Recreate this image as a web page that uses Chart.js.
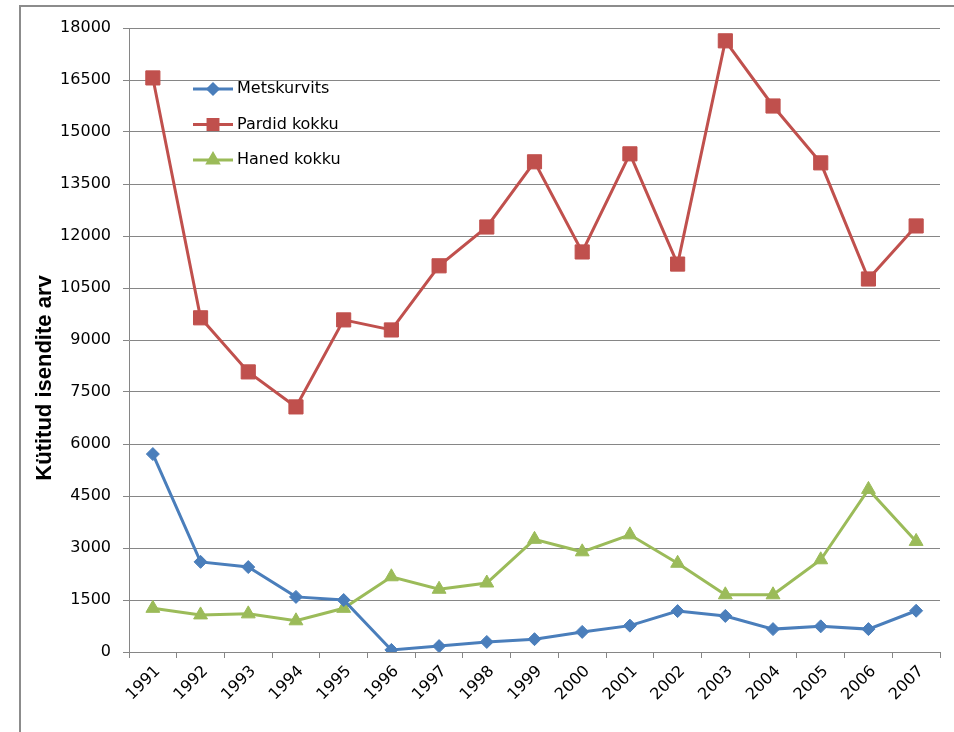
<!DOCTYPE html>
<html>
<head>
<meta charset="utf-8">
<script src="https://cdn.jsdelivr.net/npm/chart.js@4/dist/chart.umd.min.js"></script>
<style>
  html, body { margin: 0; padding: 0; background: #fff; overflow: hidden; }
  #frame { position: absolute; left: 19px; top: 5px; width: 1000px; height: 800px; border: 2px solid #8c8c8c; }
  #chart { position: absolute; left: 0; top: 0; }
</style>
</head>
<body>
<div id="frame"></div>
<canvas id="chart" width="954" height="732"></canvas>
<script>
// aastad ja kütitud isendite arv
var aastad = ["1991", "1992", "1993", "1994", "1995", "1996", "1997", "1998", "1999",
  "2000", "2001", "2002", "2003", "2004", "2005", "2006", "2007"];
var metskurvits = [5710, 2600, 2450, 1590, 1500, 60, 170, 290, 370, 580, 760, 1180, 1040, 660, 740, 660, 1190];
var pardid = [16560, 9640, 8080, 7070, 9580, 9290, 11140, 12260, 14140, 11540, 14370, 11190, 17630, 15750, 14110, 10760, 12290];
var haned = [1260, 1070, 1100, 900, 1260, 2170, 1810, 1990, 3250, 2890, 3380, 2560, 1650, 1650, 2660, 4690, 3190];
var seeriad = ["Metskurvits", "Pardid kokku", "Haned kokku"];
var yPealkiri = "Kütitud isendite arv";

var hall = "#868686";
var font = "DejaVu Sans";
var legendiR = [5, 7, 6]; // legendi markerid on väiksemad

// legend joonistatakse ise, graafiku sisse
var omaLegend = {
  id: "omaLegend",
  afterDraw: function (chart) {
    var ctx = chart.ctx;
    chart.data.datasets.forEach(function (ds, i) {
      var y = 89 + i * 35.5;
      ctx.save();
      ctx.strokeStyle = ds.borderColor;
      ctx.lineWidth = 3;
      ctx.beginPath();
      ctx.moveTo(193, y);
      ctx.lineTo(233, y);
      ctx.stroke();
      ctx.fillStyle = ds.pointBackgroundColor;
      ctx.strokeStyle = ds.pointBorderColor;
      Chart.helpers.drawPoint(ctx, {
        pointStyle: ds.pointStyle,
        radius: legendiR[i],
        rotation: 0,
        borderWidth: 1
      }, 213, y);
      ctx.fillStyle = "#000";
      ctx.font = "16px '" + font + "'";
      ctx.textBaseline = "middle";
      ctx.textAlign = "left";
      ctx.fillText(ds.label, 237, y);
      ctx.restore();
    });
    // y telje pealkiri
    ctx.save();
    ctx.translate(45, 378);
    ctx.rotate(-Math.PI / 2);
    ctx.fillStyle = "#000";
    ctx.font = "bold 22px 'Liberation Sans Narrow', 'Liberation Sans'";
    ctx.textAlign = "center";
    ctx.textBaseline = "middle";
    ctx.fillText(yPealkiri, 0, 0);
    ctx.restore();
  }
};

function seeria(nimi, andmed, varv, stiil, r) {
  return {
    label: nimi,
    data: andmed,
    borderColor: varv,
    backgroundColor: varv,
    pointBackgroundColor: varv,
    pointBorderColor: varv,
    borderWidth: 3,
    pointStyle: stiil,
    pointRadius: r,
    pointBorderWidth: 1,
    tension: 0
  };
}

var chart = new Chart("chart", {
  type: "line",
  data: {
    labels: aastad,
    datasets: [
      seeria(seeriad[0], metskurvits, "#4a7ebb", "rectRot", 6.5),
      seeria(seeriad[1], pardid, "#c0504d", "rect", 10),
      seeria(seeriad[2], haned, "#9bbb59", "triangle", 8)
    ]
  },
  options: {
    responsive: false,
    animation: false,
    layout: { padding: { top: 28, right: 14, left: 0, bottom: 0 } },
    plugins: {
      legend: { display: false },
      tooltip: { enabled: false }
    },
    scales: {
      x: {
        offset: true,
        grid: { offset: true, drawOnChartArea: false, color: hall, tickLength: 6 },
        border: { color: hall },
        ticks: {
          minRotation: 45, maxRotation: 45, color: "#000", padding: 4, labelOffset: 5,
          font: { family: font, size: 16 }
        },
        afterFit: function (s) { s.height = 80; }
      },
      y: {
        min: 0,
        max: 18000,
        grid: { color: hall, tickLength: 6 },
        border: { color: hall },
        ticks: {
          stepSize: 1500, color: "#000", padding: 12,
          font: { family: font, size: 16 },
          callback: function (v) { return String(v); }
        },
        afterFit: function (s) { s.width = 129; }
      }
    }
  },
  plugins: [omaLegend]
});
</script>
</body>
</html>
